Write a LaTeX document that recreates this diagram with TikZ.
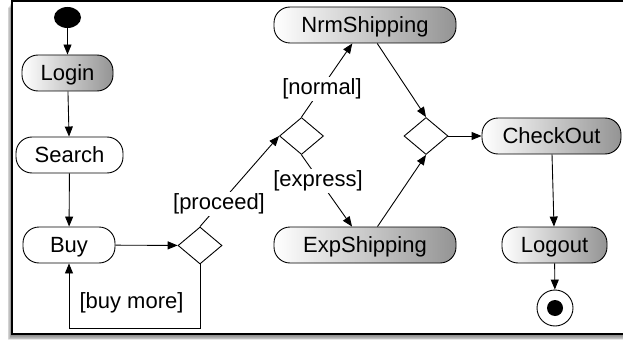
\documentclass[tikz,border=0pt]{standalone}
\usepackage{fontspec}
\setmainfont{Liberation Sans}
\usetikzlibrary{arrows.meta,shapes.geometric}
\begin{document}
\begin{tikzpicture}[x=1pt,y=-1pt,line width=0.9pt,
  >={Triangle[length=10pt,width=8pt]},
  act/.style={draw,rounded corners=16pt,minimum height=36pt,inner sep=0pt,
    text height=15.5pt,text depth=0pt,font=\fontsize{22}{26}\selectfont},
  shd/.style={act,left color=white,middle color=black!12,right color=black!42},
  wht/.style={act,fill=white},
  dec/.style={draw,diamond,fill=white,minimum width=44pt,minimum height=37pt,inner sep=0pt},
  lbl/.style={fill=white,inner sep=2pt,text height=16pt,text depth=4.6pt,
    font=\fontsize{22}{26}\selectfont}
]
\useasboundingbox (0,0) rectangle (623,342);
% frame with shadow
\foreach \i in {1,...,7}{
  \fill[black,opacity=0.09] (12-0.6*\i,1+\i) rectangle (660,334+0.9*\i);
}
\draw[fill=white,line width=1.2pt] (12,1) rectangle (660,334);

% nodes
\node[ellipse,fill=black,minimum width=27pt,minimum height=21pt,inner sep=0pt] (init) at (67.5,17.5) {};
\node[shd,minimum width=91pt] (login) at (67.5,73) {Login};
\node[wht,minimum width=107pt] (search) at (69.5,155) {Search};
\node[wht,minimum width=92pt] (buy) at (69,245) {Buy};
\node[dec] (d1) at (200,245.5) {};
\node[dec] (d2) at (301.5,136) {};
\node[dec] (d3) at (426,136) {};
\node[shd,minimum width=182pt] (nrm) at (365,25) {NrmShipping};
\node[shd,minimum width=182pt] (exp) at (365,245) {ExpShipping};
\node[shd,minimum width=139pt] (check) at (551.5,136) {CheckOut};
\node[shd,minimum width=105pt] (logout) at (554.5,245) {Logout};
\node[circle,draw,fill=white,minimum size=36pt,inner sep=0pt] (fin) at (555,308) {};
\node[circle,fill=black,minimum size=16pt,inner sep=0pt] (findot) at (fin) {};

% connectors
\draw[->] (init) -- (login);
\draw[->] (login) -- (search);
\draw[->] (search) -- (buy);
\draw[->] (buy) -- (d1);
\coordinate (loopc) at (200,328);
\draw[->] (d1.south) -- (loopc) -| (buy.south);
\draw[->] (d1.north) -- (d2.west);
\draw[->] (d2.north) -- (nrm);
\draw[->] (d2.south) -- (exp);
\draw[->] (nrm) -- (d3.north);
\draw[->] (exp) -- (d3.south);
\draw[->] (d3.east) -- (check);
\draw[->] (check) -- (logout);
\draw[->] (logout) -- (fin);

% labels
\node[lbl] (lproc) at (219,204) {[proceed]};
\node[lbl] (lnorm) at (322,89) {[normal]};
\node[lbl] (lexp) at (318,181) {[express]};
\node[lbl] (lbuy) at (131.5,303) {[buy more]};
\end{tikzpicture}
\end{document}
